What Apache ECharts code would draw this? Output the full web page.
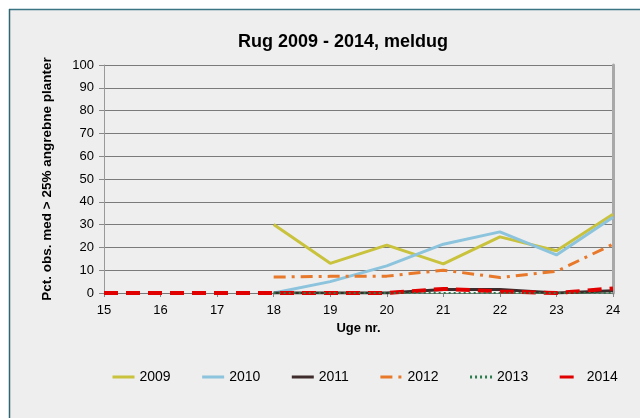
<!DOCTYPE html>
<html><head><meta charset="utf-8">
<script src="https://cdn.jsdelivr.net/npm/echarts@6/dist/echarts.min.js"></script>
<style>html,body{margin:0;padding:0;background:#fff;}#c{width:640px;height:418px;}</style>
</head><body><div id="c"></div>
<script>
const categories = ['15','16','17','18','19','20','21','22','23','24'];
const s2009 = [null,null,null,30,13,21,12.8,24.6,18.5,34.5];
const s2010 = [null,null,null,0,5,11.9,21.4,26.8,16.7,33.2];
const s2011 = [null,null,null,0,0,0,1.5,1.5,0,1];
const s2012 = [null,null,null,7,7.3,7.4,10,6.8,9.5,21.4];
const s2013 = [null,null,null,0,0,0,0,0,0,0];
const s2014 = [0,0,0,0,0,0,1.8,0.7,0,2];
const yTicks = [0,10,20,30,40,50,60,70,80,90,100];

const chart = echarts.init(document.getElementById('c'), null, {renderer:'canvas'});
const F = 'Liberation Sans, Arial, sans-serif';
function ser(name, data, color, width, type, z){
  return {name, type:'line', data, symbol:'none', z:z||2,
    lineStyle:{color, width, type}, itemStyle:{color}, connectNulls:false};
}
chart.setOption({
  backgroundColor:'#eeeeee',
  animation:false,
  textStyle:{fontFamily:F},
  title:{text:'Rug 2009 - 2014, meldug', left:338, textAlign:'center', top:28,
    textStyle:{fontFamily:F, fontSize:18, fontWeight:'bold', color:'#000'}},
  graphic:[
    {type:'rect', shape:{x:0,y:0,width:640,height:9}, style:{fill:'#fff'}, z:100},
    {type:'rect', shape:{x:0,y:0,width:9,height:418}, style:{fill:'#fff'}, z:100},
    {type:'line', shape:{x1:9,y1:9.5,x2:640,y2:9.5}, style:{stroke:'#3b7482', lineWidth:1.5}, z:101},
    {type:'line', shape:{x1:9.5,y1:9,x2:9.5,y2:418}, style:{stroke:'#2f6672', lineWidth:1.5}, z:101}
  ],
  legend:{
    data:['2009','2010','2011','2012','2013','2014'],
    left:106, top:365, itemWidth:22, itemHeight:14, itemGap:30,
    itemStyle:{opacity:0},
    lineStyle:{width:3},
    textStyle:{fontFamily:F, fontSize:14, color:'#000'}
  },
  grid:{left:104, right:27, top:65, bottom:125, containLabel:false},
  xAxis:{type:'category', data:categories, boundaryGap:false,
    name:'Uge nr.', nameLocation:'middle', nameGap:27,
    nameTextStyle:{fontFamily:F, fontSize:13, fontWeight:'bold', color:'#000'},
    axisLine:{lineStyle:{color:'#777', width:1}},
    axisTick:{show:true, length:4, lineStyle:{color:'#888'}},
    axisLabel:{fontFamily:F, fontSize:13, color:'#000', margin:11},
    splitLine:{show:false}},
  yAxis:[{type:'value', min:0, max:100, interval:10,
    name:'Pct. obs. med > 25% angrebne planter', nameLocation:'middle', nameGap:50,
    nameTextStyle:{fontFamily:F, fontSize:13.5, fontWeight:'bold', color:'#000'},
    axisLine:{show:true, lineStyle:{color:'#999', width:1}},
    axisTick:{show:true, length:5, lineStyle:{color:'#888'}},
    axisLabel:{fontFamily:F, fontSize:13, color:'#000', margin:10},
    splitLine:{show:true, lineStyle:{color:'#7a7a7a', width:1}}},
    {type:'value', min:0, max:100, interval:10, position:'right',
     axisLine:{show:true, lineStyle:{color:'#a8a8a8', width:3}},
     axisTick:{show:false}, axisLabel:{show:false}, splitLine:{show:false}}],
  series:[
    ser('2009', s2009, '#c9c23c', 3, 'solid', 3),
    ser('2010', s2010, '#8cc3dd', 3, 'solid', 3),
    ser('2011', s2011, '#3e2b2b', 3, 'solid', 4),
    ser('2012', s2012, '#e8782a', 3, [12,6,3,6], 3),
    ser('2013', s2013, '#2a7a4c', 2, [2,3], 5),
    ser('2014', s2014, '#e00000', 4, [14,8], 4)
  ]
});
</script></body></html>
